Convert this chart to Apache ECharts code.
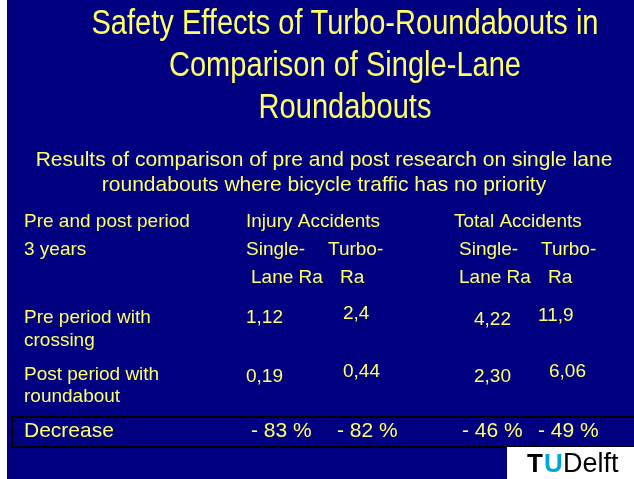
<!DOCTYPE html>
<html><head><meta charset="utf-8">
<script src="https://cdn.jsdelivr.net/npm/echarts@6/dist/echarts.min.js"></script>
<style>html,body{margin:0;padding:0;background:#fff;}#c{width:634px;height:479px;}</style>
</head><body><div id="c"></div>
<script>
// ---- data ----
const titleLines = ["Safety Effects of Turbo-Roundabouts in", "Comparison of Single-Lane", "Roundabouts"];
const subtitleLines = ["Results of comparison of pre and post research on single lane", "roundabouts where bicycle traffic has no priority"];
const headerLabel = ["Pre and post period", "3 years"];
const groupNames = ["Injury Accidents", "Total Accidents"];
const subColumns = [["Single-", "Lane Ra"], ["Turbo-", "Ra"], ["Single-", "Lane Ra"], ["Turbo-", "Ra"]];
const rowLabels = [["Pre period with", "crossing"], ["Post period with", "roundabout"]];
const injurySingleLane = ["1,12", "0,19"];
const injuryTurbo = ["2,4", "0,44"];
const totalSingleLane = ["4,22", "2,30"];
const totalTurbo = ["11,9", "6,06"];
const decreaseLabel = "Decrease";
const decrease = ["- 83 %", "- 82 %", "- 46 %", "- 49 %"];

// ---- layout ----
const YEL = "#FFFF66";
const FONT = "Liberation Sans, Arial, sans-serif";
const g = [];
g.push({type:'rect', shape:{x:7,y:0,width:627,height:479}, style:{fill:'#000080'}, z:0});
function txt(s, x, y, size, align, extra){
  g.push(Object.assign({type:'text', x:x, y:y, z:2, style:{text:s, fill:YEL, font: size+'px '+FONT, textAlign:align||'left', textVerticalAlign:'middle'}}, extra||{}));
}
titleLines.forEach((s,i)=>txt(s, 345, 24+i*42, 35, 'center', {scaleX:0.83}));
subtitleLines.forEach((s,i)=>txt(s, 324, 160+i*25, 21, 'center'));
headerLabel.forEach((s,i)=>txt(s, 24, 222+i*28, 19));
txt(groupNames[0], 246, 222, 19);
txt(groupNames[1], 454, 222, 19);
const subX = [[246,251],[328,340],[459,459],[541,548]];
subColumns.forEach((c,j)=>{ txt(c[0], subX[j][0], 250, 19); txt(c[1], subX[j][1], 278, 19); });
const rowY = [[318,341],[375,397]];
rowLabels.forEach((r,i)=>{ txt(r[0], 24, rowY[i][0], 19); txt(r[1], 24, rowY[i][1], 19); });
const valCols = [injurySingleLane, injuryTurbo, totalSingleLane, totalTurbo];
const valX = [[246,246],[343,343],[474,474],[538,549]];
const valDy = [[0,2],[-4,-3],[2,2],[-2,-3]];
valCols.forEach((col,j)=>col.forEach((v,i)=>txt(v, valX[j][i], rowY[i][0]+valDy[j][i], 19)));
// decrease row
g.push({type:'rect', shape:{x:12,y:417,width:640,height:30}, style:{fill:'none', stroke:'#000', lineWidth:2}, z:1});
txt(decreaseLabel, 24, 431, 21);
const decX = [251,337,462,538];
decrease.forEach((v,j)=>txt(v, decX[j], 431, 21));
// logo
g.push({type:'rect', shape:{x:507,y:447,width:127,height:32}, style:{fill:'#fff'}, z:1});
g.push({type:'text', x:527, y:465, z:3, style:{text:'T', fill:'#000', font:'bold 26px '+FONT, textVerticalAlign:'middle'}});
g.push({type:'text', x:544, y:465, z:3, style:{text:'U', fill:'#00A6D6', font:'bold 26px '+FONT, textVerticalAlign:'middle'}});
g.push({type:'text', x:563, y:465, z:3, style:{text:'Delft', fill:'#000', font:'27px '+FONT, textVerticalAlign:'middle'}});
g.push({type:'text', x:531, y:448, z:3, style:{text:'\u2019\u2019', fill:'#000', font:'bold 10px '+FONT, textVerticalAlign:'middle'}});

const chart = echarts.init(document.getElementById('c'));
chart.setOption({animation:false, graphic:g});
</script></body></html>
